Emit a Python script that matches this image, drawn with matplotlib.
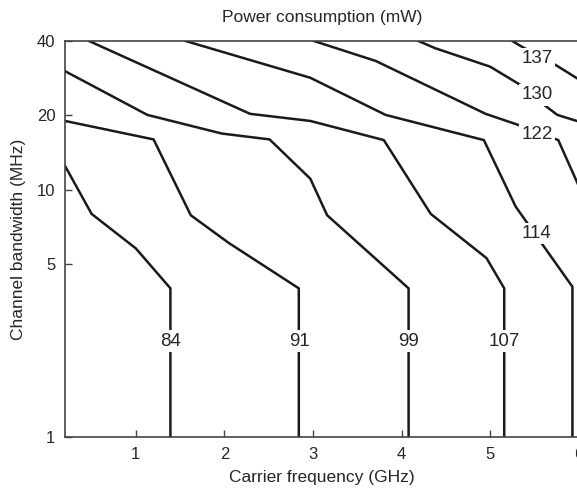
#!/usr/bin/env python3

import matplotlib
import matplotlib.pyplot as plt

matplotlib.use('Agg')

plt.rcParams['font.family'] = ['Liberation Sans', 'DejaVu Sans']

# contour levels (mW)
levels = [84, 91, 99, 107, 114, 122, 130, 137]

# vertices of each contour: carrier frequency (GHz) and channel bandwidth (MHz)
freq84 = [0.2, 0.5, 1.0, 1.39, 1.39]
bw84 = [12.5, 8.0, 5.8, 4.0, 1.0]

freq91 = [0.2, 1.2, 1.62, 2.05, 2.84, 2.84]
bw91 = [19.0, 16.0, 7.9, 6.1, 4.0, 1.0]

freq99 = [0.2, 1.13, 1.97, 2.51, 2.97, 3.16, 4.08, 4.08]
bw99 = [30.2, 20.1, 16.9, 16.0, 11.1, 7.9, 4.0, 1.0]

freq107 = [0.47, 2.29, 2.97, 3.80, 4.33, 4.96, 5.16, 5.16]
bw107 = [40, 20.3, 19.0, 15.9, 8.0, 5.3, 4.0, 1.0]

freq114 = [1.56, 2.97, 3.82, 4.93, 5.29, 5.93, 5.93]
bw114 = [40, 28.4, 20.1, 15.9, 8.55, 4.06, 1.0]

freq122 = [3.01, 3.71, 4.95, 5.34, 5.77, 6.0]
bw122 = [40, 33.2, 20.3, 18.2, 15.9, 10.4]

freq130 = [4.19, 4.38, 5.0, 5.34, 5.6, 5.76, 6.0]
bw130 = [40, 37.4, 31.5, 26.6, 22.2, 20.1, 18.9]

freq137 = [5.25, 5.36, 5.74, 6.0]
bw137 = [40, 37.9, 32.0, 28.0]

freqs = [freq84, freq91, freq99, freq107, freq114, freq122, freq130, freq137]
bws = [bw84, bw91, bw99, bw107, bw114, bw122, bw130, bw137]

xticks = [1, 2, 3, 4, 5, 6]
yticks = [1, 5, 10, 20, 40]

# where the level numbers sit on each line
label_x = [1.39, 2.85, 4.08, 5.16, 5.53, 5.53, 5.53, 5.53]
label_y = [2.45, 2.45, 2.45, 2.45, 6.68, 16.7, 24.2, 34.0]

lineColor = '#1a1a1a'
textColor = '#262626'


def drawChart():
    fig = plt.figure(figsize=(5.77, 4.93), dpi=100)
    ax = fig.add_axes([0.1127, 0.1130, 0.8901, 0.8039])

    for f, b in zip(freqs, bws):
        ax.plot(f, b, color=lineColor, linewidth=1.8, solid_joinstyle='miter', zorder=2)

    for lv, lx, ly in zip(levels, label_x, label_y):
        ax.text(lx, ly, str(lv), ha='center', va='center', fontsize=13.5,
                family=['Liberation Sans Narrow', 'Liberation Sans'], color=textColor,
                bbox=dict(boxstyle='square,pad=0.12', facecolor='white', edgecolor='none'),
                zorder=3)

    ax.set_yscale('log')
    ax.set_xlim(0.2, 6.0)
    ax.set_ylim(1, 40)
    ax.set_xticks(xticks)
    ax.set_xticklabels([str(t) for t in xticks])
    ax.set_yticks(yticks)
    ax.set_yticklabels([str(t) for t in yticks])
    ax.yaxis.set_minor_locator(matplotlib.ticker.NullLocator())

    ax.tick_params(direction='in', length=5, width=1, color='#444444',
                   labelsize=12, labelcolor=textColor, pad=7)
    for side in ['left', 'bottom', 'top']:
        ax.spines[side].set_color('#444444')
        ax.spines[side].set_linewidth(1.2)
    ax.spines['right'].set_visible(False)

    ax.set_title("Power consumption (mW)", fontsize=12.5, color=textColor, pad=14)
    ax.set_xlabel("Carrier frequency (GHz)", fontsize=12.5, color=textColor, labelpad=6)
    ax.set_ylabel("Channel bandwidth (MHz)", fontsize=12.5, color=textColor, labelpad=8)

    fig.savefig("out.png", dpi=100)


def main():
    drawChart()


if __name__ == "__main__":
    main()
